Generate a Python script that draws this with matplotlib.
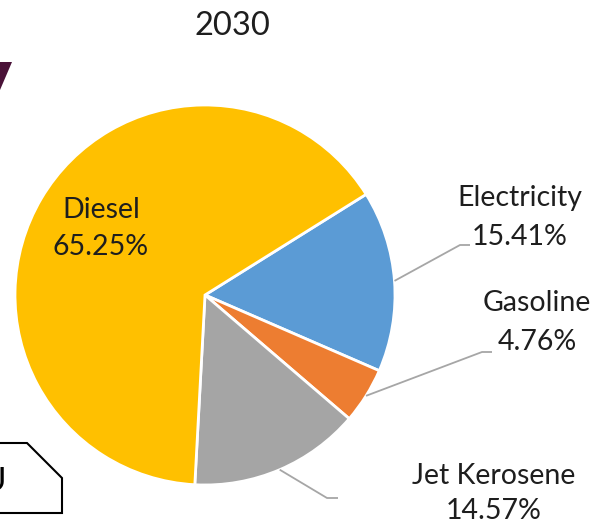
import matplotlib
matplotlib.use("Agg")
import matplotlib.pyplot as plt
from matplotlib.patches import Polygon
import numpy as np

categories = ["Diesel", "Electricity", "Gasoline", "Jet Kerosene"]
shares = [65.25, 15.41, 4.76, 14.57]
colors = ["#FFC000", "#5B9BD5", "#ED7D31", "#A5A5A5"]
title = "2030"

W, H = 596, 526
FONT = "Lato"
TXT = "#1E1E1E"
LINE = "#A6A6A6"
LBL_SIZE = 20.5

fig = plt.figure(figsize=(W / 100, H / 100), dpi=100)
ax = fig.add_axes([0, 0, 1, 1])


def py(y):
    return H - y


cx, cy, r = 205, py(295), 190
order = [1, 2, 3, 0]  # drawn clockwise starting from the upper right
wedges, _ = ax.pie([shares[i] for i in order],
                   colors=[colors[i] for i in order],
                   startangle=32, counterclock=False,
                   center=(cx, cy), radius=r, frame=True,
                   wedgeprops=dict(edgecolor="white", linewidth=2))
ax.set_xlim(0, W)
ax.set_ylim(0, H)
ax.set_aspect("equal")
ax.axis("off")

# title
ax.text(232, py(26), title, ha="center", va="center", fontsize=23.5,
        family=FONT, color=TXT)

# labels: (text x, first line y, second line y, leader (elbow x, elbow y, end x))
label_pos = {
    "Diesel": (101, 210, 247, None),
    "Electricity": (520, 198, 237, (460, 245, 470)),
    "Gasoline": (537, 303, 342, (482, 352, 492)),
    "Jet Kerosene": (494, 476, 511, (327, 498, 338)),
}
for k, idx in enumerate(order):
    name = categories[idx]
    w = wedges[k]
    tx, y1, y2, leader = label_pos[name]
    ax.text(tx, py(y1), name, ha="center", va="center", fontsize=LBL_SIZE,
            family=FONT, color=TXT)
    ax.text(tx, py(y2), f"{shares[idx]:.2f}%", ha="center", va="center",
            fontsize=LBL_SIZE, family=FONT, color=TXT)
    if leader is not None:
        mid = np.deg2rad((w.theta1 + w.theta2) / 2)
        ex, ey = cx + r * np.cos(mid), cy + r * np.sin(mid)
        bx, by, endx = leader
        ax.plot([ex, bx, endx], [ey, py(by), py(by)], color=LINE, lw=1.3,
                solid_capstyle="butt")

# cropped decorations at the left edge
ax.add_patch(Polygon([(0, py(62)), (12, py(62)), (0, py(90))], closed=True,
                     facecolor="#4A1238", edgecolor="none"))
ax.add_patch(Polygon([(-5, py(443)), (27, py(443)), (62, py(478)),
                      (62, py(513)), (-5, py(513))], closed=True,
                     facecolor="white", edgecolor="black", lw=1.5,
                     clip_on=False))
ax.text(6, py(482), "U", ha="right", va="center", fontsize=24,
        family=FONT, color="black")

fig.savefig("out.png", dpi=100)
